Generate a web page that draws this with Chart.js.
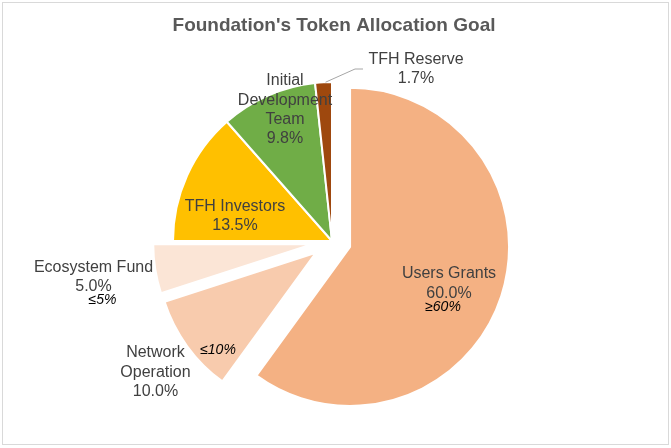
<!DOCTYPE html>
<html>
<head>
<meta charset="utf-8">
<script src="https://cdn.jsdelivr.net/npm/chart.js@4.4.1/dist/chart.umd.min.js"></script>
<style>
  html, body { margin: 0; padding: 0; background: #ffffff; }
  #wrap { width: 671px; height: 448px; }
</style>
</head>
<body>
<div id="wrap"><canvas id="c" width="671" height="448"></canvas></div>
<script>
// ---- data ----
const chartTitle = "Foundation's Token Allocation Goal";
const categories = ['Users Grants', 'Network Operation', 'Ecosystem Fund', 'TFH Investors', 'Initial Development Team', 'TFH Reserve'];
const shares = [60.0, 10.0, 5.0, 13.5, 9.8, 1.7];
const targets = ['\u226560%', '\u226410%', '\u22645%', '', '', ''];

// ---- styles / layout ----
const sliceColors = ['#F4B183', '#F8CBAD', '#FBE5D6', '#FFC000', '#70AD47', '#9E480E'];
const sliceExplode = [19, 20, 20, 0, 0, 0]; // px, applied along each slice's mid angle
const labelLayout = [
  { lines: ['Users Grants'], dx: 117, dy: 33, tdx: 111, tdy: 66 },
  { lines: ['Network', 'Operation'], dx: -176.5, dy: 112, tdx: -114, tdy: 109.5 },
  { lines: ['Ecosystem Fund'], dx: -238.5, dy: 26.5, tdx: -229.5, tdy: 59 },
  { lines: ['TFH Investors'], dx: -97, dy: -34.3 },
  { lines: ['Initial', 'Development', 'Team'], dx: -47, dy: -160 },
  { lines: ['TFH Reserve'], dx: 84, dy: -181.3, leader: [[23, -172], [31, -172]] }
];
const FONT = '"Liberation Sans", Arial, sans-serif';

const explode = {
  id: 'explode',
  afterUpdate(chart) {
    const meta = chart.getDatasetMeta(0);
    const ca = chart.chartArea;
    const cx = (ca.left + ca.right) / 2, cy = (ca.top + ca.bottom) / 2;
    meta.data.forEach((arc, i) => {
      const mid = (arc.startAngle + arc.endAngle) / 2;
      arc.x = cx + Math.cos(mid) * sliceExplode[i];
      arc.y = cy + Math.sin(mid) * sliceExplode[i];
    });
  }
};

const overlay = {
  id: 'overlay',
  afterDraw(chart) {
    const ctx = chart.ctx;
    const meta = chart.getDatasetMeta(0);
    const ca = chart.chartArea;
    const cx = (ca.left + ca.right) / 2, cy = (ca.top + ca.bottom) / 2;
    ctx.save();
    // outer frame
    ctx.strokeStyle = '#d9d9d9';
    ctx.lineWidth = 1;
    ctx.strokeRect(2.5, 2.5, 666, 442);
    // title
    ctx.fillStyle = '#595959';
    ctx.font = 'bold 19px ' + FONT;
    ctx.textAlign = 'center';
    ctx.textBaseline = 'alphabetic';
    ctx.fillText(chartTitle, 334, 31);

    meta.data.forEach((arc, i) => {
      const L = labelLayout[i];
      if (L.leader) {
        const mid = (arc.startAngle + arc.endAngle) / 2;
        const r = arc.outerRadius;
        ctx.beginPath();
        ctx.strokeStyle = '#a6a6a6';
        ctx.lineWidth = 1;
        ctx.moveTo(arc.x + Math.cos(mid) * r + 2, arc.y + Math.sin(mid) * r);
        L.leader.forEach(p => ctx.lineTo(cx + p[0], cy + p[1]));
        ctx.stroke();
      }
      ctx.fillStyle = '#404040';
      ctx.font = '16px ' + FONT;
      ctx.textAlign = 'center';
      ctx.textBaseline = 'middle';
      const lines = L.lines.concat([shares[i].toFixed(1) + '%']);
      lines.forEach((t, k) => ctx.fillText(t, cx + L.dx, cy + L.dy + k * 19.2));
      if (targets[i]) {
        ctx.fillStyle = '#000000';
        ctx.font = 'italic 14px ' + FONT;
        ctx.fillText(targets[i], cx + L.tdx, cy + L.tdy);
      }
    });
    ctx.restore();
  }
};

new Chart(document.getElementById('c'), {
  type: 'pie',
  data: {
    labels: categories,
    datasets: [{
      data: shares,
      backgroundColor: sliceColors,
      borderColor: '#ffffff',
      borderWidth: 2,
      hoverOffset: 0
    }]
  },
  options: {
    responsive: false,
    animation: false,
    radius: 159,
    rotation: 0,
    layout: { padding: { left: 132, right: 139, top: 41, bottom: 7 } },
    plugins: {
      legend: { display: false },
      title: { display: false },
      tooltip: { enabled: false }
    }
  },
  plugins: [explode, overlay]
});
</script>
</body>
</html>
